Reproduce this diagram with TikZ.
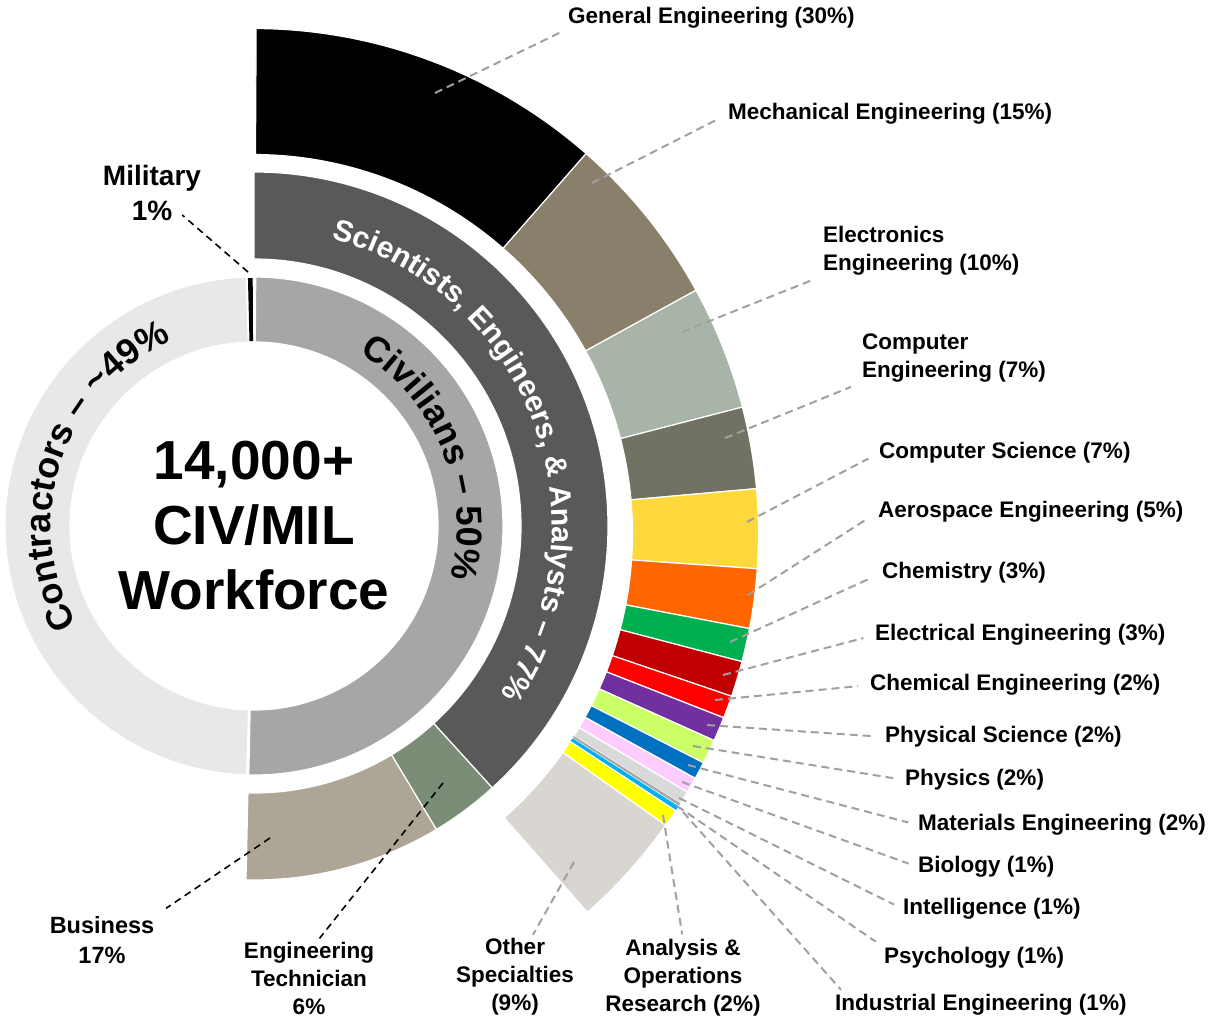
\documentclass[tikz,border=0pt]{standalone}
\usepackage{fontspec}
\setmainfont{Liberation Sans}
\usetikzlibrary{calc,decorations.text}

\definecolor{contr}{HTML}{E8E8E8}
\definecolor{civil}{HTML}{A6A6A6}
\definecolor{sci}{HTML}{595959}
\definecolor{tech}{HTML}{7B8C77}
\definecolor{busi}{HTML}{ADA595}
\definecolor{mech}{HTML}{8A7F6B}
\definecolor{elec}{HTML}{A9B4A9}
\definecolor{compe}{HTML}{727264}
\definecolor{comps}{HTML}{FFD93B}
\definecolor{aero}{HTML}{FF6600}
\definecolor{chem}{HTML}{00B050}
\definecolor{eleng}{HTML}{C00000}
\definecolor{chemeng}{HTML}{FF0000}
\definecolor{physsci}{HTML}{7030A0}
\definecolor{phys}{HTML}{CCFF66}
\definecolor{mater}{HTML}{0070C0}
\definecolor{bio}{HTML}{FFCCFF}
\definecolor{intel}{HTML}{D9D9D9}
\definecolor{psych}{HTML}{A6A6A6}
\definecolor{indus}{HTML}{00B0F0}
\definecolor{analy}{HTML}{FFFF00}
\definecolor{other}{HTML}{D9D5D0}
\definecolor{leadgray}{HTML}{A0A0A0}

\begin{document}
\begin{tikzpicture}[x = 1pt, y = 1pt,
    seg/.style = {draw = white, line width = 1.2pt},
    lbl/.style = {font = \fontsize{22.5}{28}\selectfont\bfseries, inner sep = 0pt},
    lead/.style = {leadgray, line width = 2pt, dash pattern = on 8pt off 5pt},
    blead/.style = {black, line width = 1.6pt, dash pattern = on 7pt off 5pt}]
    \useasboundingbox (0, 0) rectangle (1212, -1020);

    \begin{scope}[shift = {(254, -526)}]
    \fill[contr, seg] (91.8:184) arc[start angle = 91.8, end angle = 268.3, radius = 184] -- (268.3:249) arc[start angle = 268.3, end angle = 91.8, radius = 249] -- cycle;
    \fill[civil, seg] (89.6:184) arc[start angle = 89.6, end angle = -91.2, radius = 184] -- (-91.2:249) arc[start angle = -91.2, end angle = 89.6, radius = 249] -- cycle;
    \fill[black] (90.3:185) arc[start angle = 90.3, end angle = 91.4, radius = 185] -- (91.4:248) arc[start angle = 91.4, end angle = 90.3, radius = 248] -- cycle;

    \fill[sci, seg] (90:267) arc[start angle = 90, end angle = -47.7, radius = 267] -- (-47.7:354) arc[start angle = -47.7, end angle = 90, radius = 354] -- cycle;
    \fill[tech, seg] (-47.7:267) arc[start angle = -47.7, end angle = -59, radius = 267] -- (-59:354) arc[start angle = -59, end angle = -47.7, radius = 354] -- cycle;
    \fill[busi, seg] (-59:267) arc[start angle = -59, end angle = -91.3, radius = 267] -- (-91.3:354) arc[start angle = -91.3, end angle = -59, radius = 354] -- cycle;

    \path[decorate, decoration = {text along path, text align = center,
        text = {|\fontsize{36}{36}\selectfont\bfseries|Contractors – {\textasciitilde}49{\%}}}]
        (209:203) arc[start angle = 209, end angle = 114, radius = 203];
    \path[decorate, decoration = {text along path, text align = center,
        text = {|\fontsize{36}{36}\selectfont\bfseries|Civilians – 50{\%}}}]
        (58:203) arc[start angle = 58, end angle = -14, radius = 203];
    \path[decorate, decoration = {text along path, text align = center, text color = white,
        text = {|\fontsize{30}{30}\selectfont\bfseries|Scientists, Engineers, {\&} Analysts – 77{\%}}}]
        (77:298) arc[start angle = 77, end angle = -36.5, radius = 298];

    \node[align = center, font = \fontsize{55}{65}\selectfont\bfseries] (title) at (0, 0) {14,000+\\CIV/MIL\\Workforce};
    \end{scope}

    \begin{scope}[shift = {(253.5, -533.5)}]
    \fill[black, seg] (89.7:379) arc[start angle = 89.7, end angle = 48.8, radius = 379] -- (48.8:505) arc[start angle = 48.8, end angle = 89.7, radius = 505] -- cycle;
    \fill[mech, seg] (48.8:379) arc[start angle = 48.8, end angle = 28.8, radius = 379] -- (28.8:505) arc[start angle = 28.8, end angle = 48.8, radius = 505] -- cycle;
    \fill[elec, seg] (28.8:379) arc[start angle = 28.8, end angle = 14.5, radius = 379] -- (14.5:505) arc[start angle = 14.5, end angle = 28.8, radius = 505] -- cycle;
    \fill[compe, seg] (14.5:379) arc[start angle = 14.5, end angle = 5.1, radius = 379] -- (5.1:505) arc[start angle = 5.1, end angle = 14.5, radius = 505] -- cycle;
    \fill[comps, seg] (5.1:379) arc[start angle = 5.1, end angle = -4, radius = 379] -- (-4:505) arc[start angle = -4, end angle = 5.1, radius = 505] -- cycle;
    \fill[aero, seg] (-4:379) arc[start angle = -4, end angle = -10.85, radius = 379] -- (-10.85:505) arc[start angle = -10.85, end angle = -4, radius = 505] -- cycle;
    \fill[chem, seg] (-10.85:379) arc[start angle = -10.85, end angle = -14.7, radius = 379] -- (-14.7:505) arc[start angle = -14.7, end angle = -10.85, radius = 505] -- cycle;
    \fill[eleng, seg] (-14.7:379) arc[start angle = -14.7, end angle = -18.8, radius = 379] -- (-18.8:505) arc[start angle = -18.8, end angle = -14.7, radius = 505] -- cycle;
    \fill[chemeng, seg] (-18.8:379) arc[start angle = -18.8, end angle = -21.4, radius = 379] -- (-21.4:505) arc[start angle = -21.4, end angle = -18.8, radius = 505] -- cycle;
    \fill[physsci, seg] (-21.4:379) arc[start angle = -21.4, end angle = -24.2, radius = 379] -- (-24.2:505) arc[start angle = -24.2, end angle = -21.4, radius = 505] -- cycle;
    \fill[phys, seg] (-24.2:379) arc[start angle = -24.2, end angle = -27, radius = 379] -- (-27:505) arc[start angle = -27, end angle = -24.2, radius = 505] -- cycle;
    \fill[mater, seg] (-27:379) arc[start angle = -27, end angle = -29, radius = 379] -- (-29:505) arc[start angle = -29, end angle = -27, radius = 505] -- cycle;
    \fill[bio, seg] (-29:379) arc[start angle = -29, end angle = -30.8, radius = 379] -- (-30.8:505) arc[start angle = -30.8, end angle = -29, radius = 505] -- cycle;
    \fill[intel, seg] (-30.8:379) arc[start angle = -30.8, end angle = -32.3, radius = 379] -- (-32.3:505) arc[start angle = -32.3, end angle = -30.8, radius = 505] -- cycle;
    \fill[psych] (-32.3:379) arc[start angle = -32.3, end angle = -32.6, radius = 379] -- (-32.6:505) arc[start angle = -32.6, end angle = -32.3, radius = 505] -- cycle;
    \fill[indus] (-32.7:379) arc[start angle = -32.7, end angle = -33.2, radius = 379] -- (-33.2:505) arc[start angle = -33.2, end angle = -32.7, radius = 505] -- cycle;
    \fill[analy, seg] (-33.3:379) arc[start angle = -33.3, end angle = -35.3, radius = 379] -- (-35.3:505) arc[start angle = -35.3, end angle = -33.3, radius = 505] -- cycle;
    \fill[other, seg] (-35.3:379) arc[start angle = -35.3, end angle = -48.6, radius = 379] -- (-48.6:505) arc[start angle = -48.6, end angle = -35.3, radius = 505] -- cycle;
    \end{scope}

    \node[lbl, anchor = west] (gen) at (568, -18) {General Engineering (30\%)};
    \node[lbl, anchor = west] (mec) at (728, -114) {Mechanical Engineering (15\%)};
    \node[lbl, anchor = west, align = left] (ele) at (823, -251) {Electronics\\Engineering (10\%)};
    \node[lbl, anchor = west, align = left] (cpe) at (862, -358) {Computer\\Engineering (7\%)};
    \node[lbl, anchor = west] (cps) at (879, -453) {Computer Science (7\%)};
    \node[lbl, anchor = west] (aer) at (878, -512) {Aerospace Engineering (5\%)};
    \node[lbl, anchor = west] (chm) at (882, -573) {Chemistry (3\%)};
    \node[lbl, anchor = west] (eln) at (875, -635) {Electrical Engineering (3\%)};
    \node[lbl, anchor = west] (chn) at (870, -685) {Chemical Engineering (2\%)};
    \node[lbl, anchor = west] (phs) at (885, -737) {Physical Science (2\%)};
    \node[lbl, anchor = west] (phy) at (905, -780) {Physics (2\%)};
    \node[lbl, anchor = west] (mat) at (918, -825) {Materials Engineering (2\%)};
    \node[lbl, anchor = west] (bio) at (918, -867) {Biology (1\%)};
    \node[lbl, anchor = west] (itl) at (903, -909) {Intelligence (1\%)};
    \node[lbl, anchor = west] (psy) at (884, -958) {Psychology (1\%)};
    \node[lbl, anchor = west] (ind) at (835, -1005) {Industrial Engineering (1\%)};
    \node[lbl, align = center] (ana) at (683, -978) {Analysis \&\\Operations\\Research (2\%)};
    \node[lbl, align = center] (oth) at (515, -977) {Other\\Specialties\\(9\%)};
    \node[lbl, align = center] (tec) at (309, -978) {Engineering\\Technician\\6\%};
    \node[lbl, align = center, font = \fontsize{23.5}{30}\selectfont\bfseries] (bus) at (102, -940) {Business\\17\%};
    \node[lbl, align = center, font = \fontsize{28}{35}\selectfont\bfseries] (mil) at (152, -193) {Military\\1\%};

    \coordinate (gen-p) at (435, -93);
    \coordinate (mec-p) at (592, -183);
    \coordinate (ele-p) at (682, -332);
    \coordinate (cpe-p) at (725, -438);
    \coordinate (cps-p) at (747, -522);
    \coordinate (aer-p) at (748, -595);
    \coordinate (chm-p) at (730, -642);
    \coordinate (eln-p) at (723, -675);
    \coordinate (chn-p) at (715, -700);
    \coordinate (phs-p) at (707, -725);
    \coordinate (phy-p) at (693, -746);
    \coordinate (mat-p) at (688, -765);
    \coordinate (bio-p) at (682, -782);
    \coordinate (itl-p) at (679, -798);
    \coordinate (psy-p) at (677, -806);
    \coordinate (ind-p) at (683, -812);
    \coordinate (ana-p) at (663, -815);
    \coordinate (oth-p) at (574, -862);
    \coordinate (tec-p) at (443, -783);
    \coordinate (bus-p) at (270, -838);
    \coordinate (mil-p) at (248, -272);

    \draw[lead, shorten >= 8pt] (gen-p) -- (gen.south west);
    \draw[lead, shorten >= 12pt] (mec-p) -- (mec.west);
    \draw[lead, shorten >= 12pt] (ele-p) -- (ele.south west);
    \draw[lead, shorten >= 12pt] (cpe-p) -- (cpe.south west);
    \draw[lead, shorten >= 12pt] (cps-p) -- (cps.west);
    \draw[lead, shorten >= 12pt] (aer-p) -- (aer.west);
    \draw[lead, shorten >= 12pt] (chm-p) -- (chm.west);
    \draw[lead, shorten >= 12pt] (eln-p) -- (eln.west);
    \draw[lead, shorten >= 12pt] (chn-p) -- (chn.west);
    \draw[lead, shorten >= 12pt] (phs-p) -- (phs.west);
    \draw[lead, shorten >= 12pt] (phy-p) -- (phy.west);
    \draw[lead, shorten >= 10pt] (mat-p) -- (mat.west);
    \draw[lead, shorten >= 10pt] (bio-p) -- (bio.west);
    \draw[lead, shorten >= 10pt] (itl-p) -- (itl.west);
    \draw[lead, shorten >= 10pt] (psy-p) -- (psy.north west);
    \draw[lead, shorten >= 6pt] (ind-p) -- ([xshift = 10pt]ind.north west);
    \draw[lead, shorten >= 5pt] (ana-p) -- (ana.north);
    \draw[lead, shorten >= 4pt] (oth-p) -- ([xshift = 16pt]oth.north);

    \draw[blead, shorten >= 4pt] (tec-p) -- ([xshift = 8pt]tec.north);
    \draw[blead, shorten >= 14pt] (bus-p) -- (bus.north east);
    \draw[blead] (mil-p) -- ([shift = {(-19pt, -22pt)}]mil.east);

  \end{tikzpicture}
\end{document}
